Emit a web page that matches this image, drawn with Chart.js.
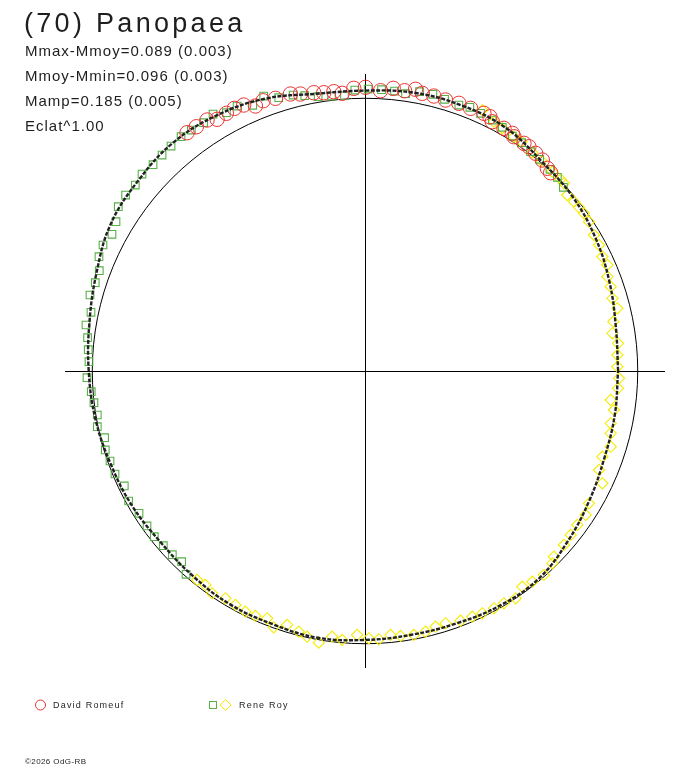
<!DOCTYPE html>
<html>
<head>
<meta charset="utf-8">
<title>(70) Panopaea</title>
<script src="https://cdn.jsdelivr.net/npm/chart.js@4.4.1/dist/chart.umd.min.js"></script>
<style>
    html, body { margin: 0; padding: 0; background: #fff; }
    #wrap { position: relative; width: 688px; height: 768px; overflow: hidden; font-family: "Liberation Sans", Arial, sans-serif; color: #1e1e1e; }
    #plot { position: absolute; left: 0; top: 0; }
    .txt { position: absolute; white-space: nowrap; }
    #title { left: 24px; top: 10px; font-size: 27px; line-height: 27px; letter-spacing: 3.3px; }
    #stats { left: 25px; top: 38px; font-size: 15px; line-height: 25px; letter-spacing: 1px; }
    .leg { font-size: 9px; line-height: 10px; letter-spacing: 1.2px; }
    #copy { left: 25px; top: 757px; font-size: 8px; line-height: 10px; letter-spacing: 0.4px; }
    svg.sym { position: absolute; overflow: visible; }
</style>
</head>
<body>
<div id="wrap">
    <canvas id="plot" width="688" height="768"></canvas>
    <div id="title" class="txt">(70) Panopaea</div>
    <div id="stats" class="txt"></div>
    <svg class="sym" style="left:0;top:0" width="688" height="768">
        <circle cx="40.5" cy="705" r="5" fill="none" stroke="#ec3434" stroke-width="1"/>
        <rect x="209.5" y="701.5" width="7" height="7" fill="none" stroke="#58b048" stroke-width="1"/>
        <polygon points="225.5,699.5 231,705 225.5,710.5 220,705" fill="none" stroke="#f4ec00" stroke-width="1"/>
    </svg>
    <div class="txt leg" style="left:53px;top:700px">David Romeuf</div>
    <div class="txt leg" style="left:239px;top:700px">Rene Roy</div>
    <div id="copy" class="txt">©2026 OdG-RB</div>
</div>
<script>
// Lightcurve of (70) Panopaea drawn in polar form:
// angle = rotation phase, radius = relative flux (reference circle = mean flux = 1)

const statLines = [
    'Mmax-Mmoy=0.089 (0.003)',
    'Mmoy-Mmin=0.096 (0.003)',
    'Mamp=0.185 (0.005)',
    'Eclat^1.00'
];

const REF_RADIUS = 1.0;
const AXIS_X = [-1.1, 1.1];
const AXIS_Y = [-1.09, 1.09];

// fitted curve, phase in degrees and relative radius
const curvePhase = [0, 10, 20, 30, 40, 50, 60, 70, 80, 90, 100, 110, 120, 130, 140, 150, 160, 170,
    180, 190, 200, 210, 220, 230, 240, 250, 260, 270, 280, 290, 300, 310, 320, 330, 340, 350];
const curveRadius = [0.928, 0.934, 0.954, 0.976, 0.994, 1.006, 1.031, 1.037, 1.037, 1.029, 1.033, 1.064,
    1.084, 1.094, 1.086, 1.077, 1.048, 1.026, 1.013, 1.004, 0.993, 0.987, 0.978, 0.982, 0.989, 0.989,
    0.994, 0.987, 0.983, 0.985, 0.993, 0.993, 0.971, 0.950, 0.934, 0.930];

// David Romeuf (circles)
const romeufX = [-0.6525, -0.6183, -0.5791, -0.5424, -0.5083, -0.4789, -0.4448, -0.4018, -0.3736, -0.3284,
    -0.2734, -0.2367, -0.1879, -0.1512, -0.1145, -0.0837, -0.0411, 0.0018, 0.0569, 0.1035,
    0.1450, 0.1853, 0.2099, 0.2525, 0.2954, 0.3442, 0.3872, 0.4360, 0.4668, 0.4580,
    0.5094, 0.5402, 0.5460, 0.5828, 0.6011, 0.6257, 0.6503, 0.6686, 0.6807];
const romeufY = [0.8745, 0.8965, 0.9211, 0.9237, 0.9457, 0.9640, 0.9761, 0.9725, 0.9919, 1.0007,
    1.0165, 1.0165, 1.0213, 1.0213, 1.0250, 1.0191, 1.0374, 1.0411, 1.0286, 1.0374,
    1.0286, 1.0338, 1.0191, 1.0092, 0.9945, 0.9824, 0.9640, 0.9457, 0.9149, 0.9332,
    0.8906, 0.8723, 0.8598, 0.8356, 0.8231, 0.7989, 0.7743, 0.7438, 0.7277];

// Rene Roy, first session (squares)
const royAX = [-0.6561, -0.6723, -0.7064, -0.7394, -0.7725, -0.7993, -0.8286, -0.8668, -0.8826, -0.9167,
    -0.9350, -0.9523, -0.9548, -0.9816, -0.9816, -0.9938, -1.0037, -1.0194, -1.0121, -1.0147,
    -1.0172, -1.0231, -1.0048, -1.0084, -0.9890, -0.9743, -0.9754, -0.9607, -0.9277, -0.9130,
    -0.9046, -0.8778, -0.8422, -0.8176, -0.7772, -0.7442, -0.7112, -0.6745, -0.6367, -0.5916,
    -0.5571, -0.5083, -0.4690, -0.4117, -0.3714, -0.3163, -0.2635, -0.2209, -0.1717, -0.1229,
    -0.0752, -0.0374, 0.0117, 0.0606, 0.1083, 0.1486, 0.2000, 0.2488, 0.2917, 0.3442,
    0.3846, 0.4238, 0.4668, 0.5035, 0.5402, 0.5743, 0.6073, 0.6404, 0.6782, 0.7053, 0.7273];
const royAY = [-0.7460, -0.6998, -0.6741, -0.6411, -0.6081, -0.5688, -0.5222, -0.4771, -0.4220, -0.3780,
    -0.3303, -0.2899, -0.2448, -0.2044, -0.1615, -0.1163, -0.0760, -0.0246, 0.0341, 0.0782,
    0.1222, 0.1688, 0.2154, 0.2789, 0.3240, 0.3681, 0.4194, 0.4624, 0.5016, 0.5479,
    0.6029, 0.6459, 0.6826, 0.7229, 0.7571, 0.7927, 0.8257, 0.8598, 0.8844, 0.9112,
    0.9431, 0.9479, 0.9725, 0.9750, 1.0092, 1.0029, 1.0128, 1.0103, 1.0066, 1.0092,
    1.0103, 1.0312, 1.0349, 1.0323, 1.0275, 1.0176, 1.0250, 1.0154, 0.9970, 0.9761,
    0.9677, 0.9457, 0.9211, 0.8943, 0.8624, 0.8378, 0.8048, 0.7769, 0.7402, 0.7108, 0.6741];

// Rene Roy, second session (diamonds)
const royBX = [0.4301, 0.4727, 0.5035, 0.5460, 0.5743, 0.6136, 0.6477, 0.6870, 0.7174, 0.7295,
    0.7420, 0.7662, 0.7846, 0.8029, 0.8213, 0.8396, 0.8580, 0.8704, 0.8888, 0.8888,
    0.9009, 0.9072, 0.9255, 0.9108, 0.9072, 0.9277, 0.9255, 0.9255, 0.9314, 0.9277,
    0.9009, 0.9130, 0.9009, 0.9009, 0.9009, 0.8704, 0.8580, 0.8704, 0.8213, 0.8092,
    0.7787, 0.7541, 0.7295, 0.6928, 0.6870, 0.6561, 0.6136, 0.5769, 0.5523, 0.5094,
    0.4727, 0.4301, 0.3934, 0.3505, 0.2954, 0.2587, 0.2220, 0.1791, 0.1303, 0.0936,
    0.0506, 0.0139, -0.0286, -0.0837, -0.1204, -0.1695, -0.2121, -0.2429, -0.2855, -0.3347,
    -0.3589, -0.4018, -0.4385, -0.4752, -0.5119, -0.5607, -0.5853, -0.6158];
const royBY = [0.9578, 0.9149, 0.8906, 0.8598, 0.8415, 0.8011, 0.7706, 0.7314, 0.7035, 0.6888,
    0.6459, 0.6213, 0.6007, 0.5787, 0.5479, 0.4991, 0.4624, 0.4194, 0.3890, 0.3461,
    0.3094, 0.2668, 0.2301, 0.1809, 0.1383, 0.1017, 0.0587, 0.0158, -0.0268, -0.0635,
    -0.1064, -0.1431, -0.1919, -0.2286, -0.2778, -0.3145, -0.3633, -0.4121, -0.4855, -0.5284,
    -0.5651, -0.6018, -0.6385, -0.6815, -0.7057, -0.7486, -0.7732, -0.7916, -0.8341, -0.8525,
    -0.8708, -0.8892, -0.9016, -0.9163, -0.9259, -0.9383, -0.9567, -0.9688, -0.9725, -0.9688,
    -0.9846, -0.9809, -0.9688, -0.9871, -0.9750, -0.9970, -0.9750, -0.9567, -0.9321, -0.9405,
    -0.9075, -0.8991, -0.8833, -0.8587, -0.8341, -0.8158, -0.7853, -0.7670];

document.getElementById('stats').innerHTML = statLines.join('<br>');

function toPoints(xs, ys) {
    return xs.map((x, i) => ({ x: x, y: ys[i] }));
}

// polar -> cartesian for the fitted curve, closed back onto its first point
const curvePoints = curvePhase.map((a, i) => ({
    x: curveRadius[i] * Math.cos(a * Math.PI / 180),
    y: curveRadius[i] * Math.sin(a * Math.PI / 180)
}));
curvePoints.push(curvePoints[0]);

// axes through the origin and the mean-flux circle
const polarFrame = {
    id: 'polarFrame',
    beforeDatasetsDraw(chart) {
        const { ctx, chartArea, scales } = chart;
        const cx = scales.x.getPixelForValue(0);
        const cy = scales.y.getPixelForValue(0);
        const r = scales.x.getPixelForValue(REF_RADIUS) - cx;
        ctx.save();
        ctx.strokeStyle = '#000';
        ctx.lineWidth = 1;
        ctx.beginPath();
        ctx.moveTo(chartArea.left, Math.floor(cy) + 0.5);
        ctx.lineTo(chartArea.right, Math.floor(cy) + 0.5);
        ctx.moveTo(Math.floor(cx) + 0.5, chartArea.top);
        ctx.lineTo(Math.floor(cx) + 0.5, chartArea.bottom);
        ctx.stroke();
        ctx.beginPath();
        ctx.arc(cx, cy, r, 0, Math.PI * 2);
        ctx.stroke();
        ctx.restore();
    }
};

new Chart(document.getElementById('plot'), {
    type: 'scatter',
    data: {
        datasets: [
            {
                label: 'Fit',
                data: curvePoints,
                showLine: true,
                borderColor: '#222',
                borderWidth: 2.4,
                borderDash: [4, 1.5],
                tension: 0.4,
                pointRadius: 0,
                fill: false
            },
            {
                label: 'David Romeuf',
                data: toPoints(romeufX, romeufY),
                pointStyle: 'circle',
                pointRadius: 7.2,
                pointBorderWidth: 1,
                pointBorderColor: '#ec3434',
                pointBackgroundColor: 'rgba(0,0,0,0)'
            },
            {
                label: 'Rene Roy',
                data: toPoints(royAX, royAY),
                pointStyle: 'rect',
                pointRadius: 5.4,
                pointBorderWidth: 1.1,
                pointBorderColor: '#58b048',
                pointBackgroundColor: 'rgba(0,0,0,0)'
            },
            {
                label: 'Rene Roy (2)',
                data: toPoints(royBX, royBY),
                pointStyle: 'rectRot',
                pointRadius: 5.6,
                pointBorderWidth: 1.1,
                pointBorderColor: '#f4ec00',
                pointBackgroundColor: 'rgba(0,0,0,0)'
            }
        ]
    },
    options: {
        responsive: false,
        maintainAspectRatio: false,
        animation: false,
        events: [],
        layout: {
            padding: { left: 65, right: 23, top: 74, bottom: 100 }
        },
        plugins: {
            legend: { display: false },
            title: { display: false },
            tooltip: { enabled: false }
        },
        scales: {
            x: { type: 'linear', display: false, min: AXIS_X[0], max: AXIS_X[1] },
            y: { type: 'linear', display: false, min: AXIS_Y[0], max: AXIS_Y[1] }
        }
    },
    plugins: [polarFrame]
});
</script>
</body>
</html>
